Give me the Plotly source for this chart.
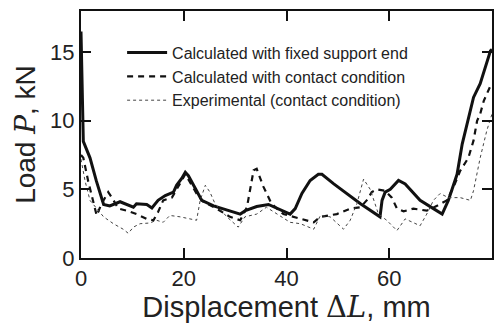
import plotly.graph_objects as go

# Calculated with fixed support end
fixed_x = [0, 0.45, 1.75, 3, 4.4, 5.6, 7.6, 10.2, 10.8, 12.8, 13.8, 15, 16.4, 18, 18.6, 19.6, 20.3, 20.9,
           22.5, 23.5, 25.8, 31, 32, 34.2, 36.5, 38.4, 40.7, 41.7, 43, 44.6, 46.2, 46.9, 49.2, 54.4,
           58.2, 58.6, 59.2, 60.2, 61.8, 63.1, 66, 68.6, 70.3, 71.5, 73.2, 74.2, 75.1, 76.4, 77.7,
           78.4, 79.7, 80]
fixed_y = [16.5, 8.5, 7.3, 5.6, 3.9, 3.8, 4.1, 3.7, 3.95, 3.9, 3.65, 4.2, 4.55, 4.8, 5.3, 5.8, 6.25, 6.0,
           4.9, 4.2, 3.8, 3.2, 3.45, 3.75, 3.9, 3.6, 3.2, 3.6, 4.7, 5.65, 6.1, 6.1, 5.4, 3.95,
           3.0, 4.2, 4.8, 5.0, 5.65, 5.4, 4.2, 3.6, 3.2, 4.2, 6.1, 8.3, 9.75, 11.7, 12.7,
           13.6, 15.1, 15.2]

# Calculated with contact condition
contact_x = [0, 0.45, 1.4, 2.4, 3.05, 4, 5.3, 6, 7.3, 8.9, 10.8, 12.8, 14.1, 15, 16, 17.7, 19.6, 20.3,
             22.5, 23.8, 26.4, 29, 31, 32.3, 33.6, 34.2, 35.5, 37.1, 39.4, 42.7, 45.3, 46.6, 49.8,
             52.4, 54.4, 55.6, 56.6, 57.6, 59.2, 60.5, 61.5, 62.8, 64.7, 67.3, 69.3, 71.2, 72.5,
             73.8, 75.4, 76.4, 77.1, 77.7, 78.4, 79.7, 80]
contact_y = [7.5, 7.3, 5.6, 4.2, 3.1, 3.95, 4.8, 4.4, 3.6, 3.45, 3.2, 2.85, 2.75, 3.35, 4.2, 4.4, 5.65, 6.1,
             4.7, 4.1, 3.6, 3.0, 2.75, 3.7, 6.4, 6.5, 5.2, 3.95, 3.2, 2.85, 2.6, 3.0, 3.2,
             3.6, 3.7, 4.2, 4.8, 5.0, 4.9, 4.4, 3.6, 3.4, 3.6, 3.45, 3.8, 4.2, 5.15,
             6.35, 7.3, 8.55, 10.0, 10.5, 11.45, 12.55, 12.7]

# Experimental (contact condition)
exp_x = [0, 0.8, 1.75, 3, 4.4, 6.3, 8.2, 9.2, 10.2, 11.5, 13.4, 14.7, 16, 17.3, 19.3, 21.2, 22.5, 23.2,
         24.2, 25.1, 26.1, 28.4, 30.6, 31.9, 34.2, 36.1, 38.1, 40.7, 42.7, 45.3, 46.6, 48.5, 51.1,
         52.4, 53.7, 55, 56.3, 57.9, 59.5, 61.5, 63.1, 64.7, 66, 67.3, 68.6, 69.9, 71.5, 73.8,
         75.8, 76.4, 77.7, 79, 80]
exp_y = [7.2, 5.6, 4.2, 3.6, 3.0, 2.5, 2.1, 1.8, 2.25, 2.5, 2.55, 2.75, 2.6, 3.1, 3.0, 2.85, 2.75, 4.2,
         5.3, 4.8, 3.95, 3.0, 2.25, 3.0, 3.2, 3.7, 3.2, 2.6, 2.5, 2.1, 3.1, 3.0, 2.1,
         2.75, 3.95, 5.75, 5.0, 3.2, 2.75, 2.0, 2.85, 2.6, 2.35, 3.2, 4.2, 4.7, 4.4, 4.4,
         4.2, 4.9, 7.3, 9.3, 10.5]

x_ticks = [0, 20, 40, 60, 80]
y_ticks = [0, 5, 10, 15]

fig = go.Figure()
fig.add_trace(go.Scatter(x=fixed_x, y=fixed_y, mode="lines", name="Calculated with fixed support end",
                         line=dict(color="#111111", width=3)))
fig.add_trace(go.Scatter(x=contact_x, y=contact_y, mode="lines", name="Calculated with contact condition",
                         line=dict(color="#111111", width=2.2, dash="6px,5px")))
fig.add_trace(go.Scatter(x=exp_x, y=exp_y, mode="lines", name="Experimental (contact condition)",
                         line=dict(color="#444444", width=1, dash="dot")))

axis_common = dict(showline=True, linecolor="#111111", linewidth=2, mirror="ticks",
                   ticks="inside", ticklen=10, tickwidth=1.5, tickcolor="#111111",
                   showgrid=False, zeroline=False,
                   tickfont=dict(family="Liberation Sans, Arial", size=22, color="#222222"))

fig.update_xaxes(range=[0, 80], tickvals=x_ticks, ticktext=[str(v) for v in x_ticks],
                 title=dict(text="Displacement <span style='font-family:DejaVu Serif'>Δ<i>L</i></span>, mm",
                            font=dict(family="Liberation Sans, Arial", size=29, color="#222222"),
                            standoff=3),
                 **axis_common)
fig.update_yaxes(range=[0, 18], tickvals=y_ticks, ticktext=[str(v) for v in y_ticks],
                 title=dict(text="Load <span style='font-family:DejaVu Serif'><i>P</i></span>, kN",
                            font=dict(family="Liberation Sans, Arial", size=28, color="#222222"),
                            standoff=6),
                 **axis_common)

fig.update_layout(
    width=504, height=324,
    margin=dict(l=81, r=12, t=9, b=66),
    paper_bgcolor="white", plot_bgcolor="white",
    showlegend=True,
    legend=dict(x=0.1, y=0.9, xanchor="left", yanchor="top",
                bgcolor="rgba(0,0,0,0)", borderwidth=0,
                font=dict(family="Liberation Sans, Arial", size=16, color="#222222"),
                itemwidth=40, tracegroupgap=0),
)

fig.write_html("out.html")
